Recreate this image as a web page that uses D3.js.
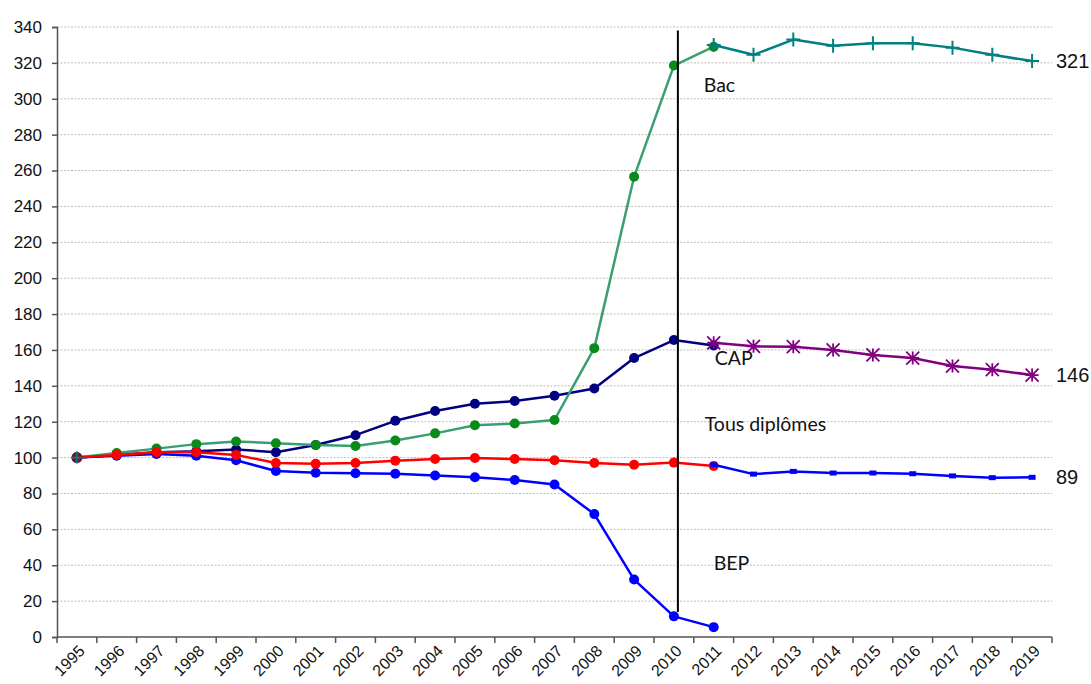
<!DOCTYPE html>
<html>
<head>
<meta charset="utf-8">
<script src="https://cdn.jsdelivr.net/npm/d3@7"></script>
<style>
  html, body { margin: 0; padding: 0; background: #fff; }
  svg { display: block; }
</style>
</head>
<body>
<svg id="chart" width="1091" height="684"></svg>
<script>
// Years on the category axis
const years = ["1995","1996","1997","1998","1999","2000","2001","2002","2003","2004","2005","2006","2007",
  "2008","2009","2010","2011","2012","2013","2014","2015","2016","2017","2018","2019"];

// Indices (base 100 in 1995), first series run 1995–2011
const bacValues   = [100, 102.5, 105, 107.5, 109, 108, 107, 106.5, 109.5, 113.5, 118, 119, 121, 161, 256.5, 318.5, 329];
const capValues   = [100, 101.5, 103, 103.5, 104.5, 103, 107, 112.5, 120.5, 126, 130, 131.5, 134.5, 138.5, 155.5, 165.5, 162.5];
const tousValues  = [100, 101.5, 103, 103, 101.5, 97, 96.5, 97, 98.3, 99.2, 99.8, 99.2, 98.5, 97, 96, 97.2, 95.3];
const bepValues   = [100, 101, 102, 101, 98.5, 92.5, 91.5, 91.3, 91, 90, 89, 87.5, 85, 68.5, 32, 11.5, 5.5];

// Second run 2011–2019
const bac2Values  = [330, 324.5, 333, 329.5, 331, 331, 328.5, 324.5, 321];
const cap2Values  = [164, 162, 161.8, 160, 157.2, 155.5, 151, 149, 146];
const tous2Values = [96, 90.8, 92.3, 91.4, 91.4, 91, 89.8, 88.8, 89];

// Y ticks
const yTicks = [0, 20, 40, 60, 80, 100, 120, 140, 160, 180, 200, 220, 240, 260, 280, 300, 320, 340];

// Series names
const seriesNames = ["Bac", "CAP", "Tous diplômes", "BEP"];

const firstYears = years.slice(0, 17);
const secondYears = years.slice(16);

const margin = { left: 57, right: 39, top: 27, bottom: 47 };
const W = 1091, H = 684;
const svg = d3.select("#chart");

const x = d3.scaleBand().domain(years).range([margin.left, W - margin.right]).padding(0);
const y = d3.scaleLinear().domain([0, 340]).range([H - margin.bottom, margin.top]);
const cx = d => x(d) + x.bandwidth() / 2;

// Grid lines
svg.append("g")
  .selectAll("line")
  .data(yTicks.filter(t => t > 0))
  .join("line")
  .attr("x1", margin.left).attr("x2", W - margin.right)
  .attr("y1", d => y(d)).attr("y2", d => y(d))
  .attr("stroke", "#bdbdbd").attr("stroke-width", 1)
  .attr("stroke-dasharray", "2,1.5");

// Y axis
const yAxis = svg.append("g")
  .attr("transform", `translate(${margin.left},0)`)
  .call(d3.axisLeft(y).tickValues(yTicks).tickSize(5).tickPadding(10));
yAxis.select(".domain").attr("stroke", "#555").attr("stroke-width", 1.5);
yAxis.selectAll(".tick line").attr("stroke", "#555").attr("stroke-width", 1.5);
yAxis.selectAll("text")
  .attr("font-family", "'Liberation Sans', Arial, sans-serif")
  .attr("font-size", 17).attr("fill", "#111");

// X axis: ticks on category boundaries
const xAxisG = svg.append("g").attr("transform", `translate(0,${y(0)})`);
xAxisG.append("line")
  .attr("x1", margin.left).attr("x2", W - margin.right)
  .attr("stroke", "#555").attr("stroke-width", 1.5);
const boundaries = years.map(d => x(d)).concat([x(years[years.length - 1]) + x.bandwidth()]);
xAxisG.selectAll("line.tk")
  .data(boundaries)
  .join("line")
  .attr("class", "tk")
  .attr("x1", d => d).attr("x2", d => d)
  .attr("y1", 0).attr("y2", 6)
  .attr("stroke", "#555").attr("stroke-width", 1.5);
xAxisG.selectAll("text")
  .data(years)
  .join("text")
  .attr("transform", d => `translate(${cx(d) + 5},${11}) rotate(-45)`)
  .attr("text-anchor", "end")
  .attr("dy", "0.35em")
  .attr("font-family", "'Liberation Sans', Arial, sans-serif")
  .attr("font-size", 16).attr("fill", "#111")
  .text(d => d);

// Line helper
function drawLine(yrs, vals, color, width) {
  const pts = yrs.map((yr, i) => [cx(yr), y(vals[i])]);
  svg.append("path")
    .attr("d", d3.line()(pts))
    .attr("fill", "none")
    .attr("stroke", color)
    .attr("stroke-width", width)
    .attr("stroke-linejoin", "round");
  return pts;
}
function drawDots(pts, color, r) {
  svg.append("g").selectAll("circle").data(pts).join("circle")
    .attr("cx", d => d[0]).attr("cy", d => d[1]).attr("r", r).attr("fill", color);
}

// First run series
const bepPts = drawLine(firstYears, bepValues, "#0000ff", 2.5);
drawDots(bepPts, "#0000ff", 5);
const capPts = drawLine(firstYears, capValues, "#000080", 2.5);
drawDots(capPts, "#000080", 5);
const bacPts = drawLine(firstYears, bacValues, "#3a9e70", 2.5);
drawDots(bacPts, "#0a8a1a", 5);
const tousPts = drawLine(firstYears, tousValues, "#ff0000", 2.5);
drawDots(tousPts, "#ff0000", 5);

// Base-year marker shared by all series
svg.append("circle")
  .attr("cx", cx(years[0])).attr("cy", y(bacValues[0])).attr("r", 5.5)
  .attr("fill", "#7a1030");
svg.append("path")
  .attr("d", `M${cx(years[0]) - 6},${y(100)}h12M${cx(years[0])},${y(100) - 6}v12`)
  .attr("stroke", "#008080").attr("stroke-width", 1.8);

// Second run series
const bac2Pts = drawLine(secondYears, bac2Values, "#008080", 2.5);
svg.append("g").selectAll("path").data(bac2Pts).join("path")
  .attr("d", d => `M${d[0] - 7},${d[1]}h14M${d[0]},${d[1] - 7}v14`)
  .attr("stroke", "#008080").attr("stroke-width", 2);

const cap2Pts = drawLine(secondYears, cap2Values, "#800080", 2.5);
svg.append("g").selectAll("path").data(cap2Pts).join("path")
  .attr("d", d => {
    const a = 6.5;
    return `M${d[0] - a},${d[1]}h${2 * a}M${d[0]},${d[1] - a}v${2 * a}` +
      `M${d[0] - a},${d[1] - a}l${2 * a},${2 * a}M${d[0] - a},${d[1] + a}l${2 * a},${-2 * a}`;
  })
  .attr("stroke", "#800080").attr("stroke-width", 1.8);

const tous2Pts = drawLine(secondYears, tous2Values, "#0000ff", 2.5);
svg.append("g").selectAll("rect").data(tous2Pts).join("rect")
  .attr("x", d => d[0] - 3.5).attr("y", d => d[1] - 2.5)
  .attr("width", 7).attr("height", 5).attr("fill", "#0000ff");

// Separator between the two runs
const sepX = cx("2010") + x.bandwidth() * 0.1;
svg.append("line")
  .attr("x1", sepX).attr("x2", sepX)
  .attr("y1", y(338)).attr("y2", y(14))
  .attr("stroke", "#000").attr("stroke-width", 2);

// Series name labels, set just right of the separator
const nameLevels = [307.5, 155.5, 118.7, 41.2];
const nameShift = [-10, 1, -9, 0];
svg.append("g").selectAll("text").data(seriesNames).join("text")
  .attr("x", (d, i) => cx("2011") + nameShift[i])
  .attr("y", (d, i) => y(nameLevels[i]))
  .attr("dy", "0.35em")
  .attr("font-family", "Lato, 'Open Sans', sans-serif")
  .attr("font-size", 19.5).attr("fill", "#111")
  .text(d => d);

// End values
const ends = [
  bac2Values[bac2Values.length - 1],
  cap2Values[cap2Values.length - 1],
  tous2Values[tous2Values.length - 1]
];
svg.append("g").selectAll("text").data(ends).join("text")
  .attr("x", W - margin.right + 4)
  .attr("y", d => y(d))
  .attr("dy", "0.35em")
  .attr("font-family", "'Liberation Sans', Arial, sans-serif")
  .attr("font-size", 20).attr("fill", "#111")
  .text(d => d3.format("d")(Math.round(d)));
</script>
</body>
</html>
